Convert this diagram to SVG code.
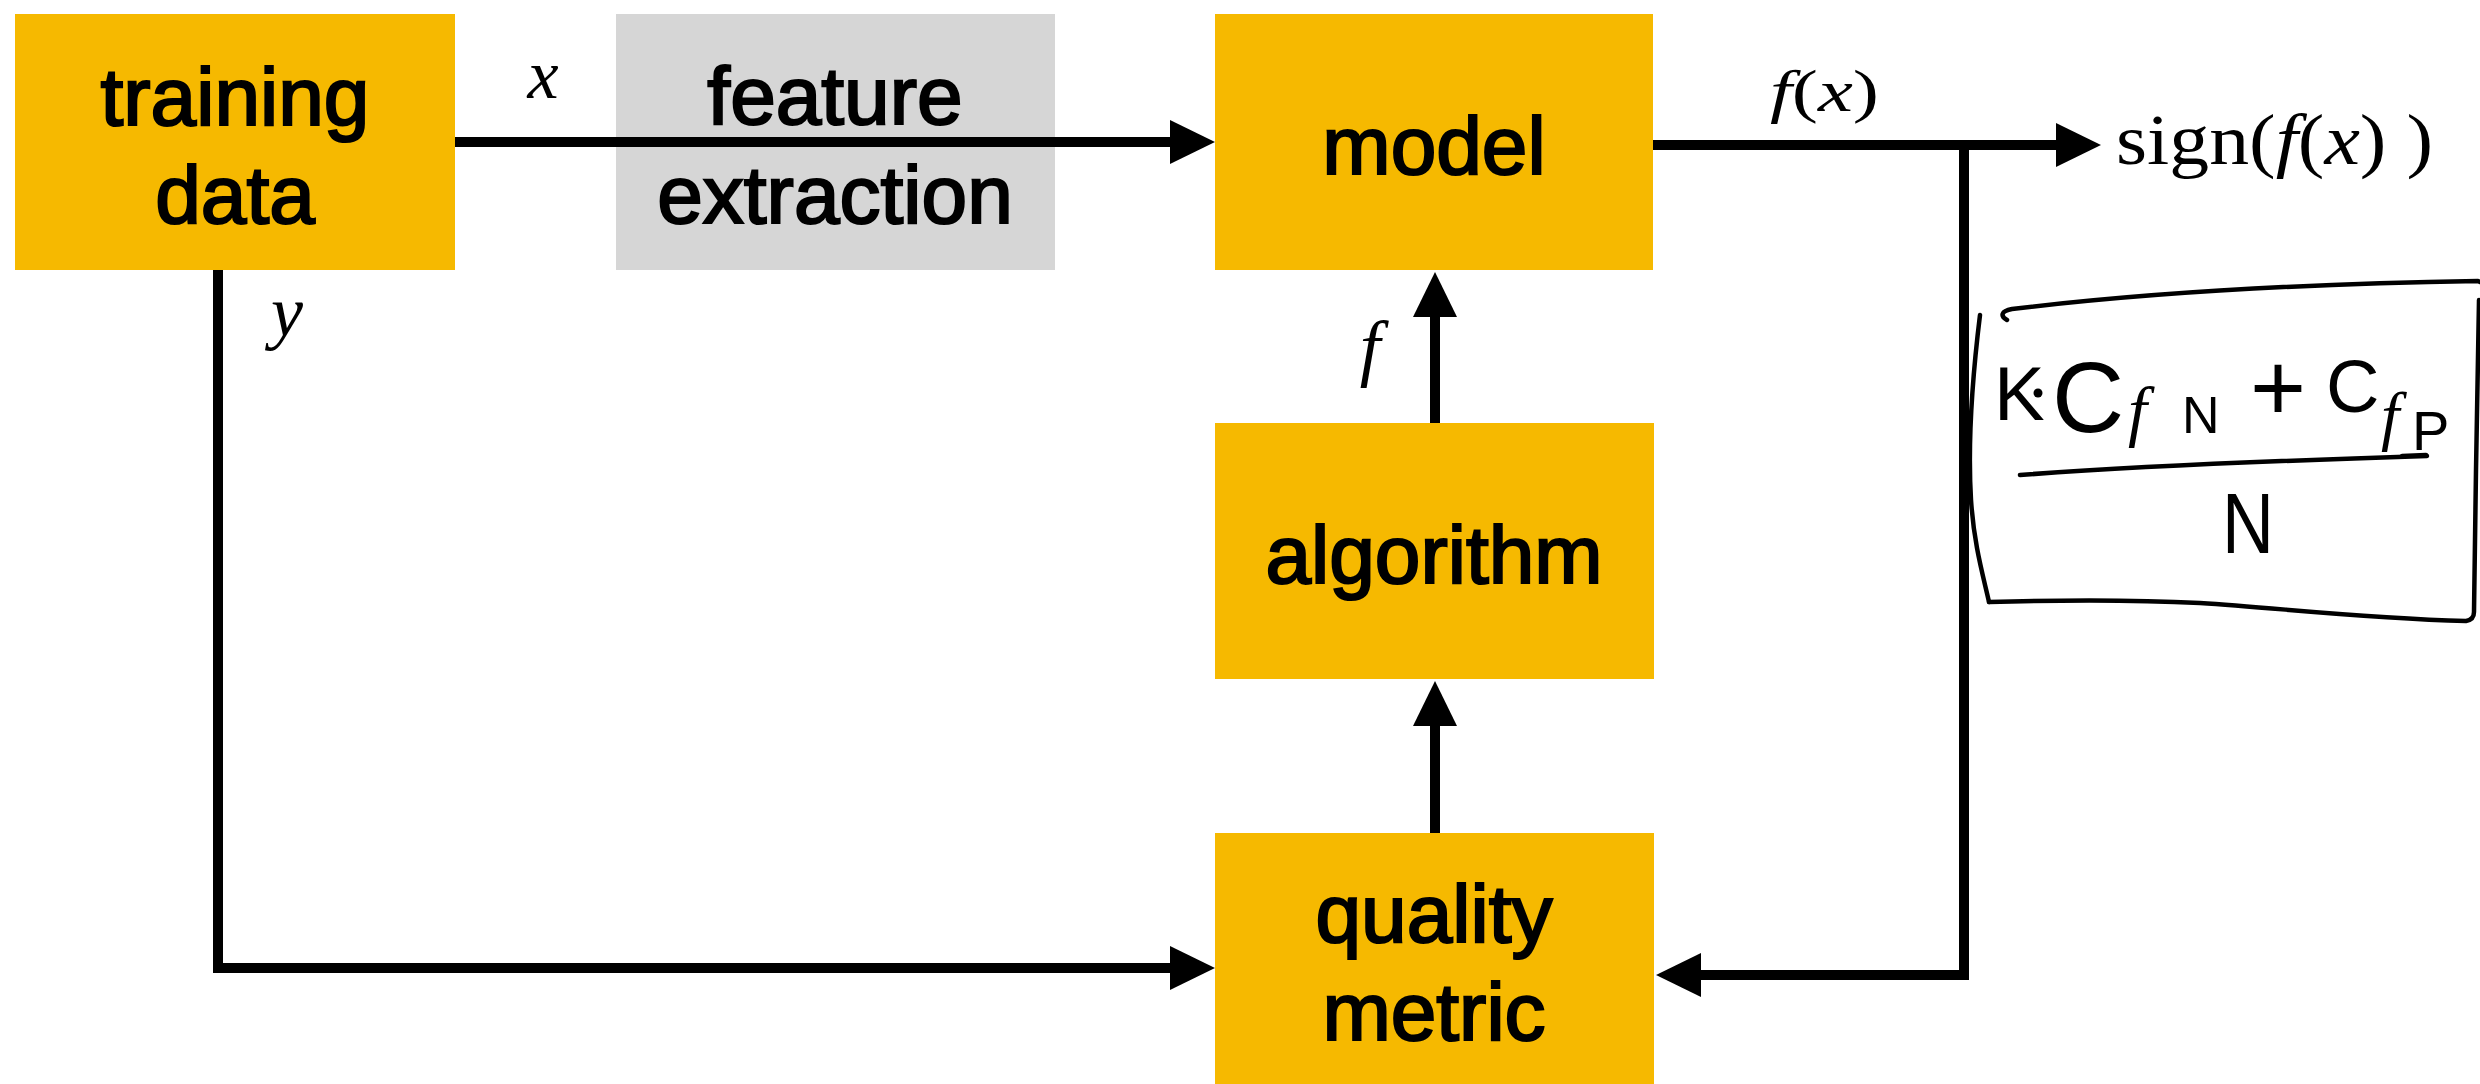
<svg xmlns="http://www.w3.org/2000/svg" width="2480" height="1084" viewBox="0 0 2480 1084">
<defs>
<style>
.box{fill:#F6B900}
.gray{fill:#D6D6D6}
.lbl{font-family:"Liberation Sans",Arial,sans-serif;font-size:82px;fill:#000;stroke:#000;stroke-width:2.2px;text-anchor:middle}
.math{font-family:"Liberation Serif","Times New Roman",serif;fill:#000}
.it{font-style:italic}
.conn{fill:none;stroke:#000;stroke-width:10;stroke-linejoin:miter}
.hand{fill:none;stroke:#000;stroke-width:4.5;stroke-linecap:round;stroke-linejoin:round}
.hw{font-family:"Liberation Sans",Arial,sans-serif;fill:#000}
.hf{font-family:"Liberation Serif","Times New Roman",serif;font-style:italic}
</style>
<marker id="ah" markerUnits="userSpaceOnUse" markerWidth="46" markerHeight="44" refX="2" refY="22" orient="auto">
<path d="M0,0 L45,22 L0,44 Z" fill="#000"/>
</marker>
</defs>
<rect width="2480" height="1084" fill="#fff"/>

<g id="training-data">
<rect class="box" x="15" y="14" width="440" height="256"/>
<text class="lbl" x="235" y="125">training</text>
<text class="lbl" x="235" y="223">data</text>
</g>

<g id="feature-extraction">
<rect class="gray" x="616" y="14" width="439" height="256"/>
<text class="lbl" x="835" y="124">feature</text>
<text class="lbl" x="835" y="223">extraction</text>
</g>

<g id="model">
<rect class="box" x="1215" y="14" width="438" height="256"/>
<text class="lbl" x="1434" y="174">model</text>
</g>

<g id="algorithm">
<rect class="box" x="1215" y="423" width="439" height="256"/>
<text class="lbl" x="1434" y="583">algorithm</text>
</g>

<g id="quality-metric">
<rect class="box" x="1215" y="833" width="439" height="256"/>
<text class="lbl" x="1434" y="942">quality</text>
<text class="lbl" x="1434" y="1040">metric</text>
</g>

<g id="connectors">
<path class="conn" d="M455,142 H1172" marker-end="url(#ah)"/>
<path class="conn" d="M1653,145 H2058" marker-end="url(#ah)"/>
<path class="conn" d="M1964,145 V975 H1699" marker-end="url(#ah)"/>
<path class="conn" d="M218,270 V968 H1172" marker-end="url(#ah)"/>
<path class="conn" d="M1435,833 V724" marker-end="url(#ah)"/>
<path class="conn" d="M1435,423 V315" marker-end="url(#ah)"/>
</g>

<g id="labels">
<text class="math it" x="543" y="98" font-size="70" text-anchor="middle">x</text>
<text class="math it" x="287" y="336" font-size="72" text-anchor="middle">y</text>
<text class="math it" x="1370" y="372" font-size="74" text-anchor="middle">f</text>
<text class="math" x="1770" y="111" font-size="60" textLength="109" lengthAdjust="spacingAndGlyphs"><tspan class="it">f</tspan>(<tspan class="it">x</tspan>)</text>
<text class="math" x="2116" y="164" font-size="72" textLength="317" lengthAdjust="spacingAndGlyphs">sign(<tspan class="it">f</tspan>(<tspan class="it">x</tspan>) )</text>
</g>

<g id="note">
<path class="hand" d="M2007,320 C2000,316 2001,311 2012,309 C2120,296 2280,284 2478,281 L2480,282"/>
<path class="hand" d="M1980,315 C1972,380 1968,450 1971,500 C1974,545 1983,575 1989,602"/>
<path class="hand" d="M1989,602 C2060,600 2140,600 2200,603 C2280,608 2360,618 2466,621 C2472,620 2474,617 2474,612 L2476,470 L2479,300"/>
<path class="hand" d="M2020,475 C2140,466 2300,460 2427,456"/>
<path class="hand" stroke-width="7" d="M2402,456 L2426,455"/>
<circle cx="2038" cy="393" r="4.5" fill="#000"/>
<text class="hw"><tspan x="1994" y="420" font-size="76">K</tspan><tspan x="2052" y="432" font-size="100">C</tspan><tspan class="hf" x="2128" y="434" font-size="68">f</tspan><tspan x="2182" y="433" font-size="52">N</tspan><tspan x="2250" y="421" font-size="96">+</tspan><tspan x="2326" y="412" font-size="74">C</tspan><tspan class="hf" x="2381" y="438" font-size="66">f</tspan><tspan x="2412" y="450" font-size="56">P</tspan></text>
<text class="hw" x="2222" y="553" font-size="86" textLength="52" lengthAdjust="spacingAndGlyphs">N</text>
</g>
</svg>
